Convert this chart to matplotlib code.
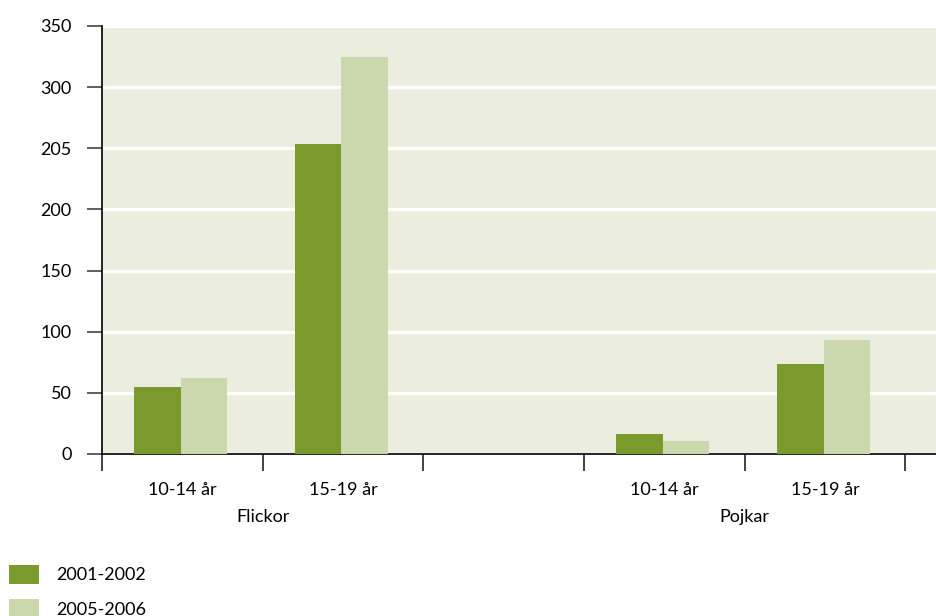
import matplotlib
matplotlib.use("Agg")
import matplotlib.pyplot as plt
import numpy as np

# values
groups = ["Flickor", "Pojkar"]
age_labels = ["10-14 år", "15-19 år", "10-14 år", "15-19 år"]
slot_pos = [0.5, 1.5, 3.5, 4.5]
series_2001 = [54.5, 253.5, 16, 73.5]
series_2005 = [62.5, 324.5, 11, 93]
ytick_vals = [0, 50, 100, 150, 200, 250, 300, 350]
ytick_text = ["0", "50", "100", "150", "200", "205", "300", "350"]

DARK = "#7A9A2E"
LIGHT = "#CBD8AD"
BG = "#EBEEDE"

plt.rcParams["font.family"] = ["Lato", "DejaVu Sans"]

fig = plt.figure(figsize=(9.36, 6.16), dpi=100)
ax = fig.add_axes([0.109, 0.263, 0.891, 0.695])
ax.set_facecolor(BG)

w = 0.29
x = np.array(slot_pos)
ax.bar(x - w / 2 - 0.01, series_2001, w, color=DARK, label="2001-2002", zorder=3)
ax.bar(x + w / 2 - 0.01, series_2005, w, color=LIGHT, label="2005-2006", zorder=3)

ax.set_ylim(0, 350)
ax.set_xlim(0, 5.19)
ax.set_yticks(ytick_vals)
ax.set_yticklabels(ytick_text, fontsize=13)
ax.yaxis.grid(True, color="white", linewidth=2.5, zorder=1)
ax.set_axisbelow(True)

ax.set_xticks([0, 1, 2, 3, 4, 5])
ax.set_xticklabels([])
ax.tick_params(axis="x", length=12, width=1.2, color="#222222")
ax.tick_params(axis="y", length=11, width=1.2, color="#444444", pad=11)

for s in ["top", "right"]:
    ax.spines[s].set_visible(False)
ax.spines["left"].set_linewidth(1.2)
ax.spines["bottom"].set_linewidth(1.2)

trans = ax.get_xaxis_transform()
for xp, lab in zip(slot_pos, age_labels):
    ax.text(xp, -0.084, lab, transform=trans, ha="center", va="center", fontsize=13)
for xp, g in zip([1, 4], groups):
    ax.text(xp, -0.148, g, transform=trans, ha="center", va="center", fontsize=13)

fig.legend(loc="lower left", bbox_to_anchor=(-0.008, -0.03), frameon=False,
           fontsize=13, handlelength=1.7, handleheight=1.25,
           labelspacing=0.85, handletextpad=0.95, borderpad=0.4)

fig.savefig("out.png", dpi=100)
